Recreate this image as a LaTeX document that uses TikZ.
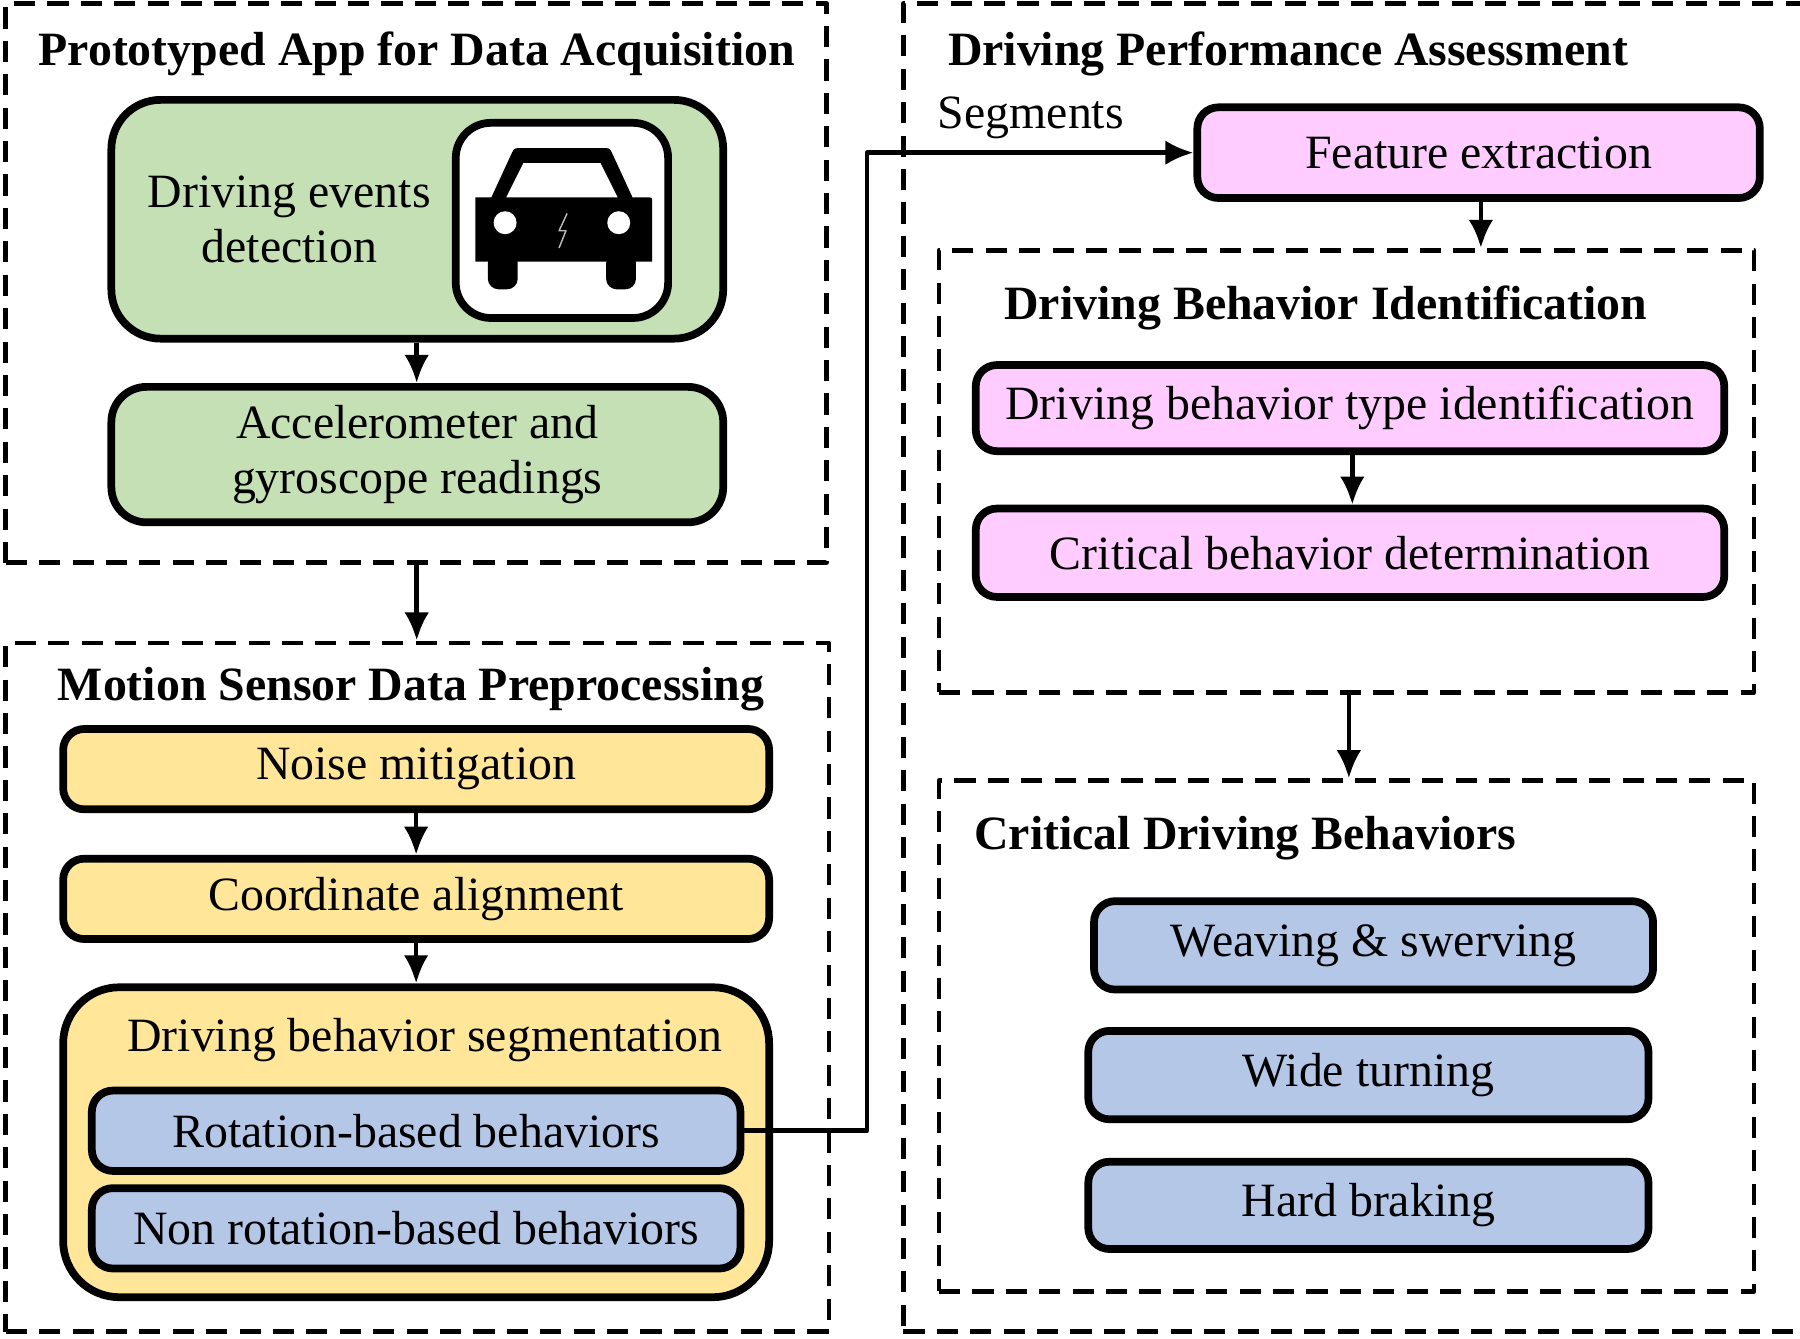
\documentclass[tikz,border=0pt]{standalone}
\usepackage{fontspec}
\setmainfont{Liberation Serif}
\usetikzlibrary{arrows.meta}
\newcommand{\pxu}{*0.01148cm}
\definecolor{appgreen}{HTML}{C5E0B4}
\definecolor{prepyellow}{HTML}{FFE699}
\definecolor{assesspink}{HTML}{FFCCFF}
\definecolor{behavblue}{HTML}{B4C7E7}
\begin{document}
\begin{tikzpicture}[x=0.01148cm,y=-0.01148cm,line join=round,
  >={Latex[length=8pt,width=7pt]},
  frame/.style={draw,line width=1.3pt,dash pattern=on 6pt off 3.5pt,inner sep=0pt},
  box/.style={draw,line width=2.2pt,rounded corners=6pt,inner sep=0pt,align=center,
    font=\fontsize{13.6}{15.5}\selectfont},
  ttl/.style={font=\bfseries\fontsize{13.6}{16}\selectfont},
  link/.style={->,line width=1.3pt}]
\useasboundingbox (0,0) rectangle (1568,1166);
% frames
\node[frame,minimum width=715\pxu,minimum height=487\pxu] (fApp) at (362.5,246.5) {};
\node[frame,minimum width=717\pxu,minimum height=600\pxu] (fPrep) at (363.5,860) {};
\node[frame,minimum width=1008\pxu,minimum height=1157\pxu] (fAssess) at (1291,581.5) {};
\node[frame,minimum width=710\pxu,minimum height=385\pxu] (fIdent) at (1173,410.5) {};
\node[frame,minimum width=710\pxu,minimum height=445\pxu] (fCrit) at (1173,902.5) {};
% titles
\node[ttl] (tApp) at (363,47) {Prototyped App for Data Acquisition};
\node[ttl] (tPrep) at (358,600) {Motion Sensor Data Preprocessing};
\node[ttl,anchor=west] (tAssess) at (815,47) {Driving Performance Assessment};
\node[ttl] (tIdent) at (1155,268) {Driving Behavior Identification};
\node[ttl,anchor=west] (tCrit) at (838,730) {Critical Driving Behaviors};
% app
\node[box,fill=appgreen,rounded corners=14pt,minimum width=533\pxu,minimum height=208\pxu] (detect) at (363.5,191) {};
\node[align=center,font=\fontsize{13.6}{15.5}\selectfont] (detectTxt) at (252,191) {Driving events\\detection};
\node[box,fill=white,rounded corners=10pt,minimum width=185\pxu,minimum height=170\pxu] (icon) at (489.5,192) {};
\fill (414,172) -- (428,172) -- (446,133) .. controls (448,129) .. (454,129) -- (525,129) .. controls (531,129) .. (533,133) -- (551,172) -- (565,172)
  .. controls (568,172) .. (568,176) -- (568,228) -- (414,228) -- (414,176) .. controls (414,172) .. cycle;
\fill[white] (441,172) -- (456,142) -- (523,142) -- (538,172) -- cycle;
\fill[rounded corners=3pt] (425,220) rectangle (451,252);
\fill[rounded corners=3pt] (528,220) rectangle (554,252);
\fill[white] (440,194) circle (10);
\fill[white] (539,194) circle (10);
\draw[black!25,line width=0.4pt] (494,186) -- (487,201) -- (493,201) -- (487,216);
\node[box,fill=appgreen,rounded corners=10pt,minimum width=533\pxu,minimum height=118\pxu] (readings) at (363.5,396) {Accelerometer and\\gyroscope readings};
% preprocessing
\node[box,fill=prepyellow,minimum width=615\pxu,minimum height=70\pxu] (noise) at (362.5,670) {Noise mitigation};
\node[box,fill=prepyellow,minimum width=615\pxu,minimum height=70\pxu] (align) at (362.5,783) {Coordinate alignment};
\node[box,fill=prepyellow,rounded corners=16pt,minimum width=615\pxu,minimum height=270\pxu] (segment) at (362.5,995) {};
\node[font=\fontsize{13.6}{15.5}\selectfont] (segTxt) at (370,906) {Driving behavior segmentation};
\node[box,fill=behavblue,minimum width=565\pxu,minimum height=70\pxu] (rot) at (362.5,985) {Rotation-based behaviors};
\node[box,fill=behavblue,minimum width=565\pxu,minimum height=70\pxu] (nonrot) at (362.5,1070) {Non rotation-based behaviors};
% assessment
\node[box,fill=assesspink,minimum width=490\pxu,minimum height=79\pxu] (feat) at (1288,133) {Feature extraction};
\node[box,fill=assesspink,minimum width=652\pxu,minimum height=75\pxu] (type) at (1176,355.5) {Driving behavior type identification};
\node[box,fill=assesspink,minimum width=652\pxu,minimum height=77\pxu] (critical) at (1176,481.5) {Critical behavior determination};
\node[box,fill=behavblue,minimum width=487\pxu,minimum height=77\pxu] (weave) at (1196.5,823.5) {Weaving \& swerving};
\node[box,fill=behavblue,minimum width=488\pxu,minimum height=77\pxu] (wide) at (1192,936.5) {Wide turning};
\node[box,fill=behavblue,minimum width=488\pxu,minimum height=76\pxu] (brake) at (1192,1050) {Hard braking};
\node[font=\fontsize{13.6}{16}\selectfont] (segLbl) at (898,103) {Segments};
% connectors
\draw[link] (detect.south -| 363,0) -- (readings.north -| 363,0);
\draw[link] (fApp.south -| 363,0) -- (fPrep.north -| 363,0);
\draw[link] (noise) -- (align);
\draw[link] (align) -- (segment);
\draw[link] (rot.east) -- ++(107,0) |- (feat.west);
\draw[link] (feat.south -| 1290,0) -- (fIdent.north -| 1290,0);
\draw[link] (type.south -| 1178,0) -- (critical.north -| 1178,0);
\draw[link] (fIdent.south -| 1175,0) -- (fCrit.north -| 1175,0);
\end{tikzpicture}
\end{document}
